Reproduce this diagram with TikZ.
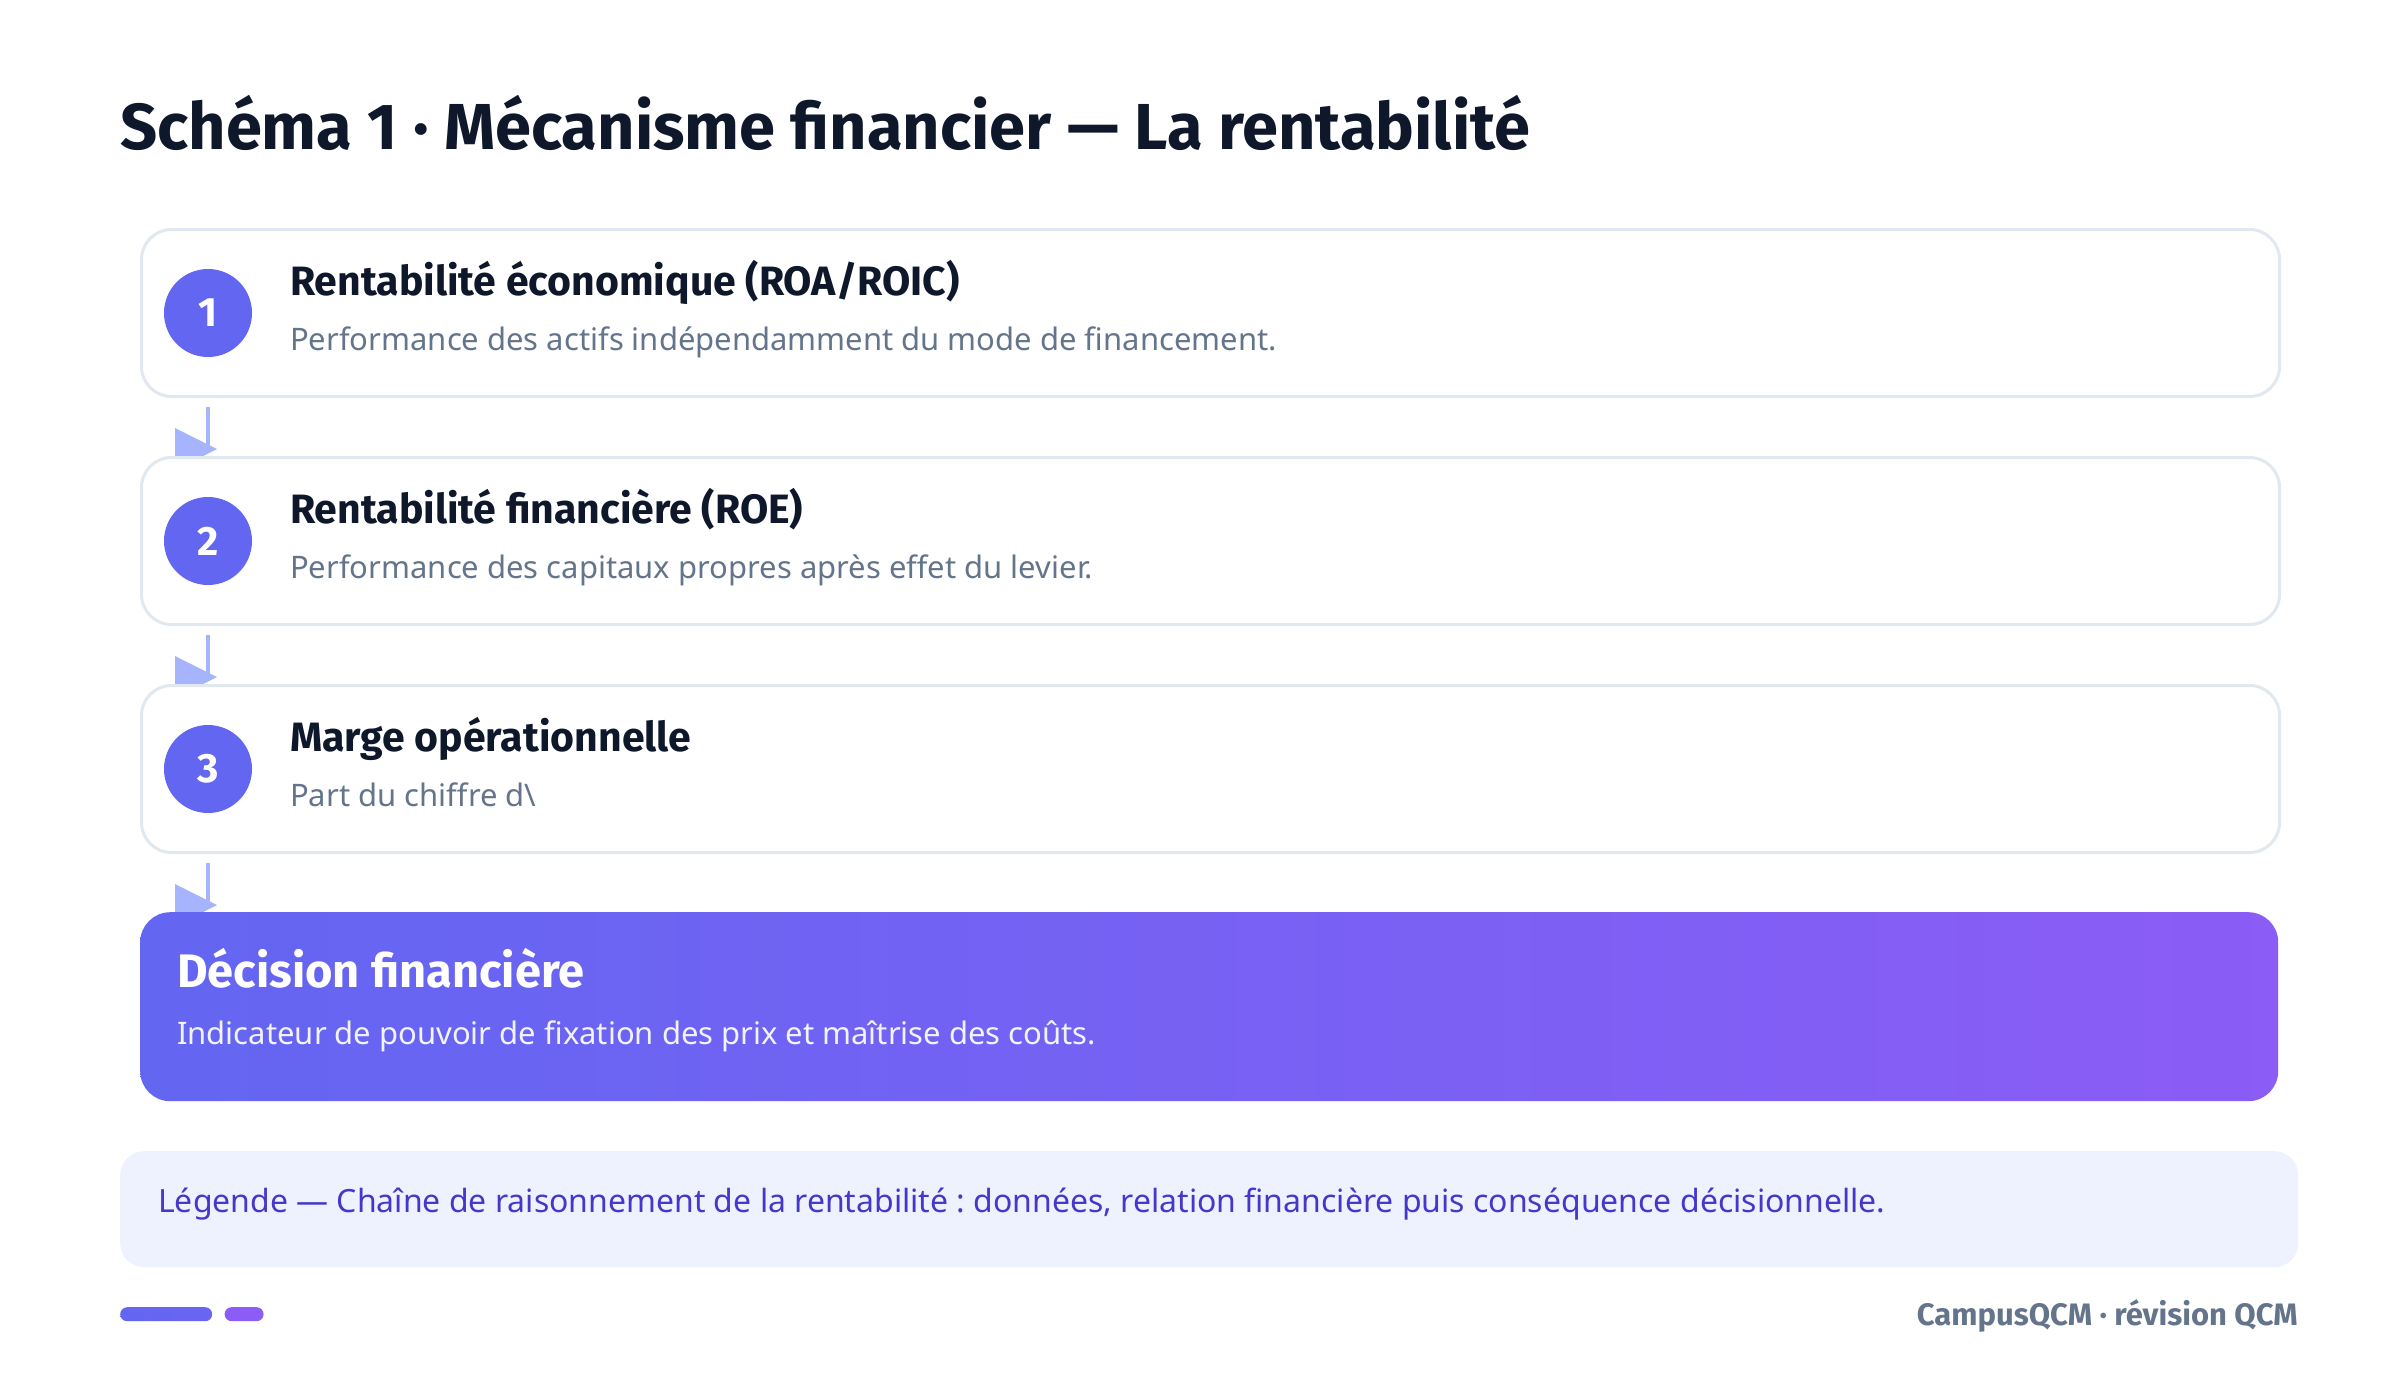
\documentclass[tikz,border=0pt]{standalone}
\usepackage{fontspec}
\setmainfont{Noto Sans}
\newfontfamily\headfont{Fira Sans}
\usepackage{tikz}
\usetikzlibrary{positioning, calc}
\frenchspacing

\definecolor{ink}{HTML}{0F172A}
\definecolor{slate}{HTML}{64748B}
\definecolor{edgegray}{HTML}{E2E8F0}
\definecolor{indigo}{HTML}{6366F1}
\definecolor{violet}{HTML}{8B5CF6}
\definecolor{flow}{HTML}{A5B4FC}
\definecolor{legfill}{HTML}{EEF2FF}
\definecolor{legtext}{HTML}{4338CA}

\pgfdeclarelayer{paper}
\pgfdeclarelayer{back}
\pgfsetlayers{paper,back,main}

\tikzset{
  stepbox/.style={draw=edgegray, line width=3pt, fill=white, rounded corners=30pt,
    minimum width=2138pt, minimum height=167pt, inner sep=0pt, anchor=north west},
  decbox/.style={left color=indigo, right color=violet, rounded corners=30pt,
    minimum width=2138pt, minimum height=189pt, inner sep=0pt, anchor=north west},
  numdot/.style={circle, fill=indigo, minimum size=88pt, inner sep=0pt,
    text=white, font=\fontsize{41}{44}\selectfont\headfont\bfseries},
  steptitle/.style={anchor=base west, inner sep=0pt, text=ink, font=\fontsize{41}{46}\selectfont\headfont\bfseries},
  stepsub/.style={anchor=base west, inner sep=0pt, text=slate, font=\fontsize{31}{36}\selectfont},
  flowline/.style={draw=flow, line width=4.5pt},
  bar/.style={rounded corners=7pt, minimum height=14pt, inner sep=0pt, anchor=north west}
}

\begin{document}
\begin{tikzpicture}[x=1pt, y=-1pt]
    % Page
    \useasboundingbox (0,0) rectangle (2400,1375);
    \begin{pgfonlayer}{paper}
      \fill[white] (0,0) rectangle (2400,1375);
    \end{pgfonlayer}

    % Title
    \node[anchor=base west, inner sep=0pt, text=ink, font=\fontsize{65}{70}\selectfont\headfont\bfseries] (title) at (120,150)
      {Schéma 1 · Mécanisme financier — La rentabilité};

    % Steps
    \foreach \i/\t/\s in {1/{Rentabilité économique (ROA/ROIC)}/Performance des actifs indépendamment du mode de financement.,
                          2/Rentabilité financière (ROE)/Performance des capitaux propres après effet du levier.,
                          3/Marge opérationnelle/Part du chiffre d\textbackslash} {
      \node[stepbox] (b\i) at (140,{228+228*(\i-1)}) {};
      \node[numdot] (c\i) at ($(b\i.west)+(68,0)$) {\i};
      \node[steptitle] (t\i) at ($(b\i.north west)+(150,67)$) {\t};
      \node[stepsub] (s\i) at ($(b\i.north west)+(150,122)$) {\s};
    }

    % Decision
    \node[decbox] (b4) at (140,912) {};
    \node[steptitle, text=white, font=\fontsize{47}{52}\selectfont\headfont\bfseries] (t4) at ($(b4.north west)+(37,75)$) {Décision financière};
    \node[stepsub, text=white!92!indigo] (s4) at ($(b4.north west)+(37,132)$)
      {Indicateur de pouvoir de fixation des prix et maîtrise des coûts.};

    % Connectors, under the boxes
    \begin{pgfonlayer}{back}
      \foreach \i in {1,2,3} {
        \pgfmathtruncatemacro{\j}{\i+1}
        \coordinate (a\i) at ($(c\i |- b\i.south)+(0,9)$);
        \coordinate (e\i) at ($(c\i |- b\j.north)+(0,-7)$);
        \draw[flowline] (a\i) -- (e\i);
        \fill[flow] ($(e\i)+(-33,-21)$) -- ($(e\i)+(9,0)$) -- ($(e\i)+(-33,21)$) -- cycle;
      }
    \end{pgfonlayer}

    % Legend
    \node[fill=legfill, rounded corners=24pt, minimum width=2178pt, minimum height=116pt,
      inner sep=0pt, anchor=north west] (leg) at (120,1151) {};
    \node[anchor=base west, inner sep=0pt, text=legtext, font=\fontsize{32}{38}\selectfont] (legtxt)
      at ($(leg.north west)+(38,61)$)
      {Légende — Chaîne de raisonnement de la rentabilité : données, relation financière puis conséquence décisionnelle.};

    % Footer
    \node[bar, left color=indigo, right color=indigo!85!violet, minimum width=92pt] (bar1) at (120,1307) {};
    \node[bar, fill=violet, minimum width=39pt, right=12pt of bar1.north east, anchor=north west] (bar2) {};
    \node[anchor=base east, inner sep=0pt, text=slate, font=\fontsize{31}{34}\selectfont\headfont\bfseries] (foot)
      at (2298,1325) {CampusQCM · révision QCM};
\end{tikzpicture}
\end{document}
